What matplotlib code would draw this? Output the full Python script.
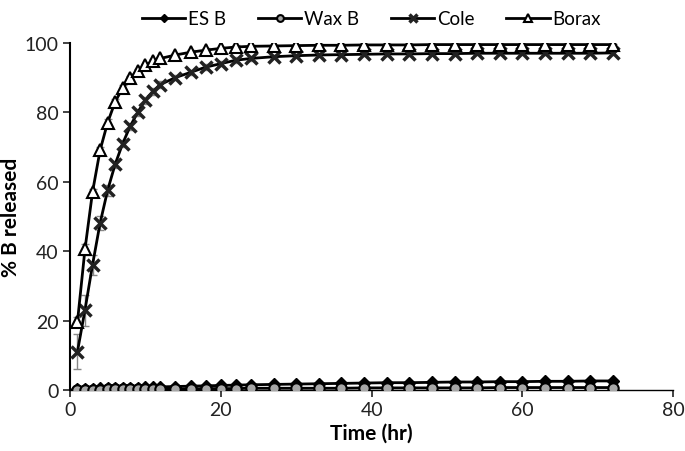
import matplotlib
matplotlib.use("Agg")
import matplotlib.pyplot as plt

# sampling times (hr)
time_hr = [1, 2, 3, 4, 5, 6, 7, 8, 9, 10, 11, 12,
           14, 16, 18, 20, 22, 24,
           27, 30, 33, 36, 39, 42, 45, 48, 51, 54, 57, 60, 63, 66, 69, 72]

# % B released
es_b = [0.3, 0.4, 0.4, 0.5, 0.5, 0.6, 0.6, 0.7, 0.7, 0.8, 0.8, 0.9,
        1.0, 1.1, 1.2, 1.3, 1.4, 1.5,
        1.6, 1.7, 1.8, 1.9, 2.0, 2.1, 2.1, 2.2, 2.3, 2.3, 2.4, 2.4, 2.5, 2.5, 2.6, 2.6]
wax_b = [0.1, 0.1, 0.1, 0.1, 0.2, 0.2, 0.2, 0.2, 0.2, 0.3, 0.3, 0.3,
         0.3, 0.3, 0.4, 0.4, 0.4, 0.5,
         0.5, 0.5, 0.5, 0.5, 0.6, 0.6, 0.6, 0.6, 0.6, 0.6, 0.7, 0.7, 0.7, 0.7, 0.7, 0.7]
cole = [11, 23, 36, 48, 57.5, 65, 71, 76, 80, 83.5, 86, 88,
        90, 91.5, 93, 94, 95, 95.5,
        96, 96.3, 96.5, 96.6, 96.7, 96.8, 96.8, 96.9, 96.9, 97, 97, 97, 97, 97, 97, 97.1]
cole_err = [5, 4.5, 3, 2, 1.5, 1, 1, 1, 1, 1, 1, 1,
            0.8, 0.8, 0.8, 0.8, 0.8, 0.8,
            0.5, 0.5, 0.5, 0.5, 0.5, 0.5, 0.5, 0.5, 0.5, 0.5, 0.5, 0.5, 0.5, 0.5, 0.5, 0.5]
borax = [19.5, 40.5, 57, 69, 77, 83, 87, 90, 92, 93.5, 94.8, 95.5,
         96.5, 97.3, 97.9, 98.4, 98.8, 99,
         99.1, 99.2, 99.3, 99.3, 99.4, 99.4, 99.4, 99.5, 99.5, 99.5, 99.5, 99.5, 99.5, 99.5, 99.5, 99.5]
borax_err = [1.5, 1.5, 1, 1, 1, 0.8, 0.8, 0.5, 0.5, 0.5, 0.5, 0.5,
             0.5, 0.5, 0.5, 0.5, 0.5, 0.5,
             0.3, 0.3, 0.3, 0.3, 0.3, 0.3, 0.3, 0.3, 0.3, 0.3, 0.3, 0.3, 0.3, 0.3, 0.3, 0.3]

plt.rcParams['font.family'] = ['Lato', 'DejaVu Sans']

fig = plt.figure(figsize=(6.85, 4.52), dpi=100)
ax = fig.add_axes([0.102, 0.135, 0.881, 0.768])

ekw = dict(ecolor='#888888', elinewidth=1, capsize=3, capthick=1)

ax.plot(time_hr, es_b, color='black', lw=2, marker='D', ms=6.5,
        mfc='black', mec='black', label='ES B', zorder=3)
ax.plot(time_hr, wax_b, color='black', lw=2, marker='o', ms=7.5,
        mfc='#a6a6a6', mec='black', mew=1.5, label='Wax B', zorder=4)
ax.errorbar(time_hr, cole, yerr=cole_err, fmt='none', zorder=2, **ekw)
ax.plot(time_hr, cole, color='black', lw=2, marker='x', ms=8, mew=2.5,
        mec='#222222', label='Cole', zorder=3)
ax.errorbar(time_hr, borax, yerr=borax_err, fmt='none', zorder=2, **ekw)
ax.plot(time_hr, borax, color='black', lw=2, marker='^', ms=8.5,
        mfc='white', mec='black', mew=1.5, label='Borax', zorder=3)

ax.set_xlim(0, 80)
ax.set_ylim(0, 100)
ax.set_xticks([0, 20, 40, 60, 80])
ax.set_yticks([0, 20, 40, 60, 80, 100])
ax.spines['top'].set_visible(False)
ax.spines['right'].set_visible(False)
ax.spines['left'].set_linewidth(1.5)
ax.spines['bottom'].set_linewidth(1.0)
ax.tick_params(axis='both', direction='out', length=5, width=1.2, labelsize=14,
               colors='#222222', pad=3)
ax.set_xlabel('Time (hr)', fontsize=15, fontweight='bold', labelpad=3)
ax.set_ylabel('% B released', fontsize=15, fontweight='bold', labelpad=3)

ax.legend(loc='upper center', bbox_to_anchor=(0.5, 1.115), ncol=4, frameon=False,
          fontsize=13.5, handlelength=2.3, handletextpad=0.15, columnspacing=1.7,
          markerscale=0.65, borderaxespad=0)

fig.savefig('out.png', dpi=100)
